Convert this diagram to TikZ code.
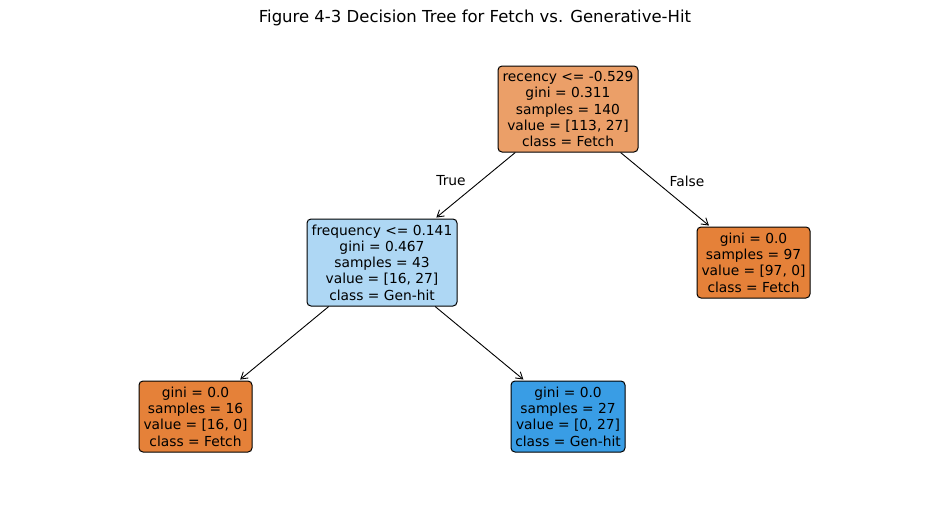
\documentclass[tikz,border=0pt]{standalone}
\usepackage{fontspec}
\setmainfont{DejaVu Sans}
\usetikzlibrary{arrows.meta}
\definecolor{fetchfull}{HTML}{E58139}
\definecolor{genfull}{HTML}{399DE5}
\definecolor{rootfill}{RGB}{235,159,104}
\definecolor{freqfill}{RGB}{174,215,244}
\begin{document}
\begin{tikzpicture}[x=1pt,y=-1pt,
  treenode/.style={draw=black, line width=1pt, rounded corners=4pt, inner sep=0pt,
    align=center, font=\fontsize{13.8}{16.3}\selectfont},
  edge/.style={line width=0.9pt, -{Straight Barb[length=6.5pt,width=8pt]}, shorten >=1.5pt},
  edgelabel/.style={font=\fontsize{13.8}{16.3}\selectfont}
]
\useasboundingbox (0,0) rectangle (950,504);
\node[font=\fontsize{16.5}{20}\selectfont] (title) at (475,18) {Figure 4-3 Decision Tree for Fetch vs. Generative-Hit};

\node[treenode, fill=rootfill, minimum width=140pt, minimum height=86pt] (root) at (568,109)
  {recency <= -0.529\\gini = 0.311\\samples = 140\\value = [113, 27]\\class = Fetch};
\node[treenode, fill=freqfill, minimum width=150pt, minimum height=87pt] (freq) at (382,262.5)
  {frequency <= 0.141\\gini = 0.467\\samples = 43\\value = [16, 27]\\class = Gen-hit};
\node[treenode, fill=fetchfull, minimum width=113pt, minimum height=71pt] (right) at (753.5,262.5)
  {gini = 0.0\\samples = 97\\value = [97, 0]\\class = Fetch};
\node[treenode, fill=fetchfull, minimum width=113pt, minimum height=71pt] (ll) at (195.5,416.5)
  {gini = 0.0\\samples = 16\\value = [16, 0]\\class = Fetch};
\node[treenode, fill=genfull, minimum width=114pt, minimum height=71pt] (lr) at (568,416.5)
  {gini = 0.0\\samples = 27\\value = [0, 27]\\class = Gen-hit};

\draw[edge] (root) -- (freq);
\draw[edge] (root) -- (right);
\draw[edge] (freq) -- (ll);
\draw[edge] (freq) -- (lr);

\node[edgelabel] (truelbl) at (451,181) {True};
\node[edgelabel] (falselbl) at (687,181) {False};
\end{tikzpicture}
\end{document}
